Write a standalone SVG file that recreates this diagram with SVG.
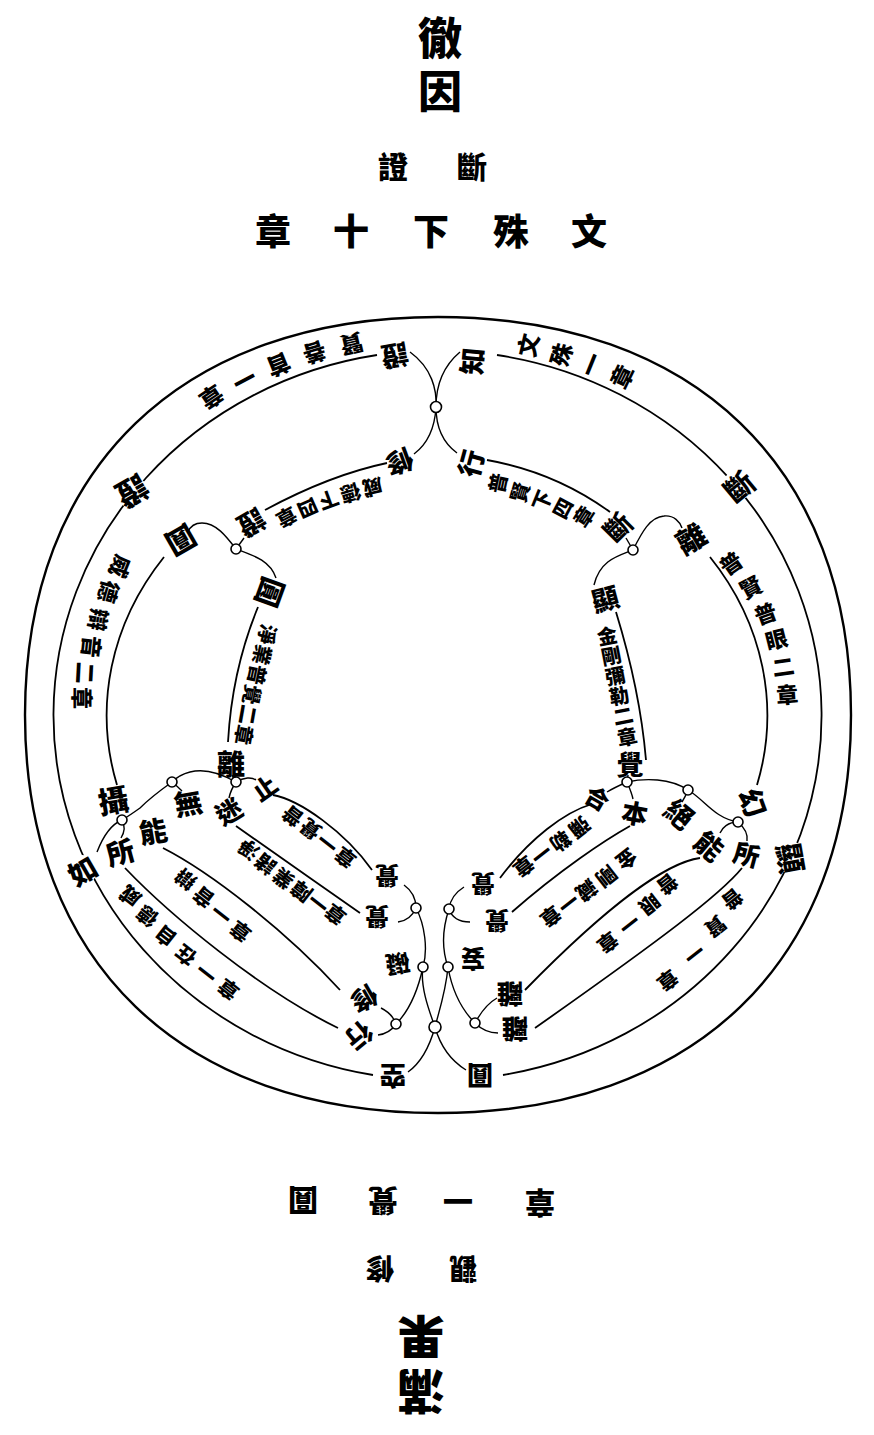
<svg xmlns="http://www.w3.org/2000/svg" width="874" height="1435" viewBox="0 0 874 1435">
<style>
.t{font-family:"Noto Sans CJK TC","Noto Sans CJK SC",sans-serif;font-weight:900;text-anchor:middle;dominant-baseline:central;fill:#000}
.ring{fill:none;stroke:#000;stroke-width:2.4}
.ln{fill:none;stroke:#000;stroke-width:1.8}
.cn{fill:none;stroke:#000;stroke-width:1.4}
.nd{fill:#fff;stroke:#000;stroke-width:1.6}
.mk{fill:#fff;stroke:none}
</style>
<rect width="874" height="1435" fill="#fff"/>

<g id="title-top">
<text class="t" font-size="44" x="440" y="69" style="writing-mode:vertical-rl;letter-spacing:9px">徹因</text>
<text class="t" font-size="30" transform="translate(393,165)">證</text>
<text class="t" font-size="30" transform="translate(472,165)">斷</text>
<text class="t" font-size="36" transform="translate(273,229)">章</text>
<text class="t" font-size="36" transform="translate(351,229)">十</text>
<text class="t" font-size="36" transform="translate(431,229)">下</text>
<text class="t" font-size="36" transform="translate(511,229)">殊</text>
<text class="t" font-size="36" transform="translate(589,229)">文</text>
</g>

<g id="title-bottom">
<text class="t" font-size="30" transform="translate(303,1203) rotate(180)">圓</text>
<text class="t" font-size="30" transform="translate(383,1203) rotate(180)">覺</text>
<text class="t" font-size="30" transform="translate(458,1203) rotate(180)">一</text>
<text class="t" font-size="30" transform="translate(540,1205) rotate(180)">章</text>
<text class="t" font-size="28" transform="translate(380,1270) rotate(180)">修</text>
<text class="t" font-size="28" transform="translate(463,1270) rotate(180)">觀</text>
<text class="t" font-size="47" transform="translate(421,1340) rotate(180)">果</text>
<text class="t" font-size="47" transform="translate(421,1394) rotate(180)">滿</text>
</g>

<g id="connectors">
<path class="ring" d="M438,317 C694,317 851,468 851,715 C851,962 694,1113 438,1113 C182,1113 25,962 25,715 C25,468 182,317 438,317 Z"/>
<path class="ln" d="M377,355 A385,365 0 0,0 373,1075"/>
<path class="ln" d="M497,355 A385,365 0 0,1 503,1075"/>
<path class="ln" d="M710,557 A330,281 0 0,1 757,785"/>
<path class="ln" d="M164,557 A330,281 0 0,0 117,785"/>
<path class="ln" d="M487,460 Q555,472 610,512"/>
<path class="ln" d="M387,463 Q330,475 265,510"/>
<path class="ln" d="M616,612 Q640,690 646,760"/>
<path class="ln" d="M258,607 Q232,670 228,742"/>
<path class="cn" d="M410,352 C432,368 437,390 436,407 C435,425 430,442 414,454"/>
<path class="cn" d="M460,352 C441,368 436,390 436,407 C436,425 442,442 457,453"/>
<path class="cn" d="M626,538 L633,550"/>
<path class="cn" d="M633,550 C618,556 600,560 594,585"/>
<path class="cn" d="M633,550 C642,532 650,517 664,516 C674,515 680,522 682,528"/>
<path class="cn" d="M244,538 L236,549"/>
<path class="cn" d="M236,549 C226,536 216,523 202,523 C194,523 190,527 188,532"/>
<path class="cn" d="M236,549 C252,555 270,560 276,578"/>
<path class="cn" d="M232,775 L236,782"/>
<path class="cn" d="M236,782 C244,777 252,777 256,780"/>
<path class="cn" d="M236,782 C232,788 230,793 229,798"/>
<path class="cn" d="M236,782 C222,774 205,768 190,772 C182,774 176,778 172,782"/>
<path class="cn" d="M172,782 C177,786 180,789 182,791"/>
<path class="cn" d="M172,782 C158,792 148,800 140,808 C133,813 127,817 122,820"/>
<path class="cn" d="M122,820 C126,827 124,833 121,838"/>
<path class="cn" d="M122,820 C112,824 104,834 97,852"/>
<path class="cn" d="M628,775 L627,782"/>
<path class="cn" d="M627,782 C618,786 612,789 607,792"/>
<path class="cn" d="M627,782 C630,789 632,794 633,799"/>
<path class="cn" d="M627,782 C645,778 670,778 688,790"/>
<path class="cn" d="M688,790 C686,795 684,799 682,802"/>
<path class="cn" d="M688,790 C705,800 714,818 738,822"/>
<path class="cn" d="M738,822 C728,822 722,828 720,833"/>
<path class="cn" d="M738,822 C746,829 748,835 747,841"/>
<path class="ln" d="M273,795 C300,800 345,832 372,870"/>
<path class="ln" d="M236,826 C270,850 320,885 360,913"/>
<path class="ln" d="M163,848 C210,872 285,930 340,990"/>
<path class="ln" d="M125,868 C170,915 260,990 338,1028"/>
<path class="ln" d="M592,804 C565,812 530,838 500,878"/>
<path class="ln" d="M630,826 C605,840 560,870 512,912"/>
<path class="ln" d="M700,858 C670,862 615,898 525,990"/>
<path class="ln" d="M742,868 C720,895 660,940 535,1028"/>
<path class="cn" d="M404,885 C411,890 416,898 416,908"/>
<path class="cn" d="M416,908 C412,917 406,921 398,922"/>
<path class="cn" d="M416,908 C425,925 428,950 423,967 C420,985 428,1008 435,1027"/>
<path class="cn" d="M423,967 C418,990 410,1010 396,1024"/>
<path class="cn" d="M381,1008 C389,1012 394,1018 396,1024"/>
<path class="cn" d="M396,1024 C392,1030 386,1034 378,1035"/>
<path class="cn" d="M435,1027 C430,1045 422,1062 408,1072"/>
<path class="cn" d="M464,887 C456,892 450,900 449,909"/>
<path class="cn" d="M449,909 C452,918 460,922 470,922"/>
<path class="cn" d="M449,909 C442,930 442,950 448,967 C446,990 440,1008 435,1027"/>
<path class="cn" d="M448,967 C452,990 462,1010 475,1023"/>
<path class="cn" d="M475,1023 C482,1010 490,1002 497,998"/>
<path class="cn" d="M475,1023 C482,1030 490,1033 498,1033"/>
<path class="cn" d="M435,1027 C440,1045 450,1060 466,1070"/>
</g>

<g id="nodes-junctions">
<circle class="nd" cx="436" cy="407" r="5.5"/>
<circle class="nd" cx="633" cy="550" r="5"/>
<circle class="nd" cx="236" cy="549" r="5"/>
<circle class="nd" cx="236" cy="782" r="5"/>
<circle class="nd" cx="172" cy="782" r="5"/>
<circle class="nd" cx="122" cy="820" r="5"/>
<circle class="nd" cx="627" cy="782" r="5"/>
<circle class="nd" cx="688" cy="790" r="5"/>
<circle class="nd" cx="738" cy="822" r="5"/>
<circle class="nd" cx="416" cy="908" r="5"/>
<circle class="nd" cx="423" cy="967" r="5"/>
<circle class="nd" cx="396" cy="1024" r="5"/>
<circle class="nd" cx="449" cy="909" r="5"/>
<circle class="nd" cx="448" cy="967" r="5"/>
<circle class="nd" cx="475" cy="1023" r="5"/>
<circle class="nd" cx="435" cy="1027" r="6"/>
</g>

<g id="n-zheng-top"><text class="t" font-size="27" transform="translate(395,357) rotate(170)">證</text></g>
<g id="n-zhi"><text class="t" font-size="27" transform="translate(471,361) rotate(-85)">知</text></g>
<g id="n-xiu-top"><text class="t" font-size="27" transform="translate(400,463) rotate(160)">修</text></g>
<g id="n-xing-top"><text class="t" font-size="27" transform="translate(470,463) rotate(-75)">行</text></g>

<g id="band-wenshu">
<text class="t" font-size="23" transform="translate(527,345) rotate(-77)">文</text>
<text class="t" font-size="23" transform="translate(560,354) rotate(-73)">殊</text>
<text class="t" font-size="23" transform="translate(590,364) rotate(-68)">一</text>
<text class="t" font-size="23" transform="translate(621,376) rotate(-64)">章</text>
</g>
<g id="band-xianshanshou">
<text class="t" font-size="23" transform="translate(352,345) rotate(167)">賢</text>
<text class="t" font-size="23" transform="translate(315,354) rotate(163)">善</text>
<text class="t" font-size="23" transform="translate(279,366) rotate(158)">首</text>
<text class="t" font-size="23" transform="translate(245,381) rotate(152)">一</text>
<text class="t" font-size="23" transform="translate(212,398) rotate(146)">章</text>
</g>
<g id="band-puxian-four">
<text class="t" font-size="20" transform="translate(497,483) rotate(-78)">普</text>
<text class="t" font-size="20" transform="translate(519,492) rotate(-74)">賢</text>
<text class="t" font-size="20" transform="translate(541,500) rotate(-68)">下</text>
<text class="t" font-size="20" transform="translate(562,508) rotate(-62)">四</text>
<text class="t" font-size="20" transform="translate(583,516) rotate(-57)">章</text>
</g>
<g id="band-weide-four">
<text class="t" font-size="20" transform="translate(373,488) rotate(167)">威</text>
<text class="t" font-size="20" transform="translate(351,494) rotate(164)">德</text>
<text class="t" font-size="20" transform="translate(329,501) rotate(160)">下</text>
<text class="t" font-size="20" transform="translate(308,509) rotate(156)">四</text>
<text class="t" font-size="20" transform="translate(287,518) rotate(152)">章</text>
</g>

<g id="n-duan-outer"><circle class="mk" cx="738" cy="485" r="15"/><text class="t" font-size="29" transform="translate(738,485) rotate(-40)">斷</text></g>
<g id="n-duan-inner"><text class="t" font-size="27" transform="translate(617,526) rotate(-45)">斷</text></g>
<g id="n-li-right"><text class="t" font-size="29" transform="translate(690,537) rotate(-30)">離</text></g>
<g id="n-xian-inner"><text class="t" font-size="27" transform="translate(605,598) rotate(-15)">顯</text></g>
<g id="band-puxian-puyan">
<text class="t" font-size="22" transform="translate(730,562) rotate(-35)">普</text>
<text class="t" font-size="22" transform="translate(750,586) rotate(-28)">賢</text>
<text class="t" font-size="22" transform="translate(765,612) rotate(-20)">普</text>
<text class="t" font-size="22" transform="translate(776,638) rotate(-14)">眼</text>
<text class="t" font-size="22" transform="translate(783,665) rotate(-8)">二</text>
<text class="t" font-size="22" transform="translate(787,693) rotate(-4)">章</text>
</g>
<g id="band-jingang-mile">
<text class="t" font-size="20" transform="translate(607,635) rotate(-11)">金</text>
<text class="t" font-size="20" transform="translate(611,655) rotate(-11)">剛</text>
<text class="t" font-size="20" transform="translate(615,675) rotate(-11)">彌</text>
<text class="t" font-size="20" transform="translate(619,695) rotate(-11)">勒</text>
<text class="t" font-size="20" transform="translate(623,715) rotate(-11)">二</text>
<text class="t" font-size="20" transform="translate(627,736) rotate(-11)">章</text>
</g>
<g id="n-jue-right"><text class="t" font-size="27" transform="translate(630,763)">覺</text></g>

<g id="n-zheng-outer"><circle class="mk" cx="133" cy="493" r="16"/><text class="t" font-size="31" transform="translate(133,493) rotate(150)">證</text></g>
<g id="n-zheng-inner"><text class="t" font-size="27" transform="translate(252,524) rotate(150)">證</text></g>
<g id="n-yuan-1"><text class="t" font-size="29" transform="translate(182,542) rotate(150)">圓</text></g>
<g id="n-yuan-2"><text class="t" font-size="29" transform="translate(272,593) rotate(110)">圓</text></g>
<g id="band-weide-bianyin">
<text class="t" font-size="22" transform="translate(122,567) rotate(112)">威</text>
<text class="t" font-size="22" transform="translate(110,592) rotate(106)">德</text>
<text class="t" font-size="22" transform="translate(100,620) rotate(100)">辯</text>
<text class="t" font-size="22" transform="translate(93,647) rotate(96)">音</text>
<text class="t" font-size="22" transform="translate(87,673) rotate(93)">二</text>
<text class="t" font-size="22" transform="translate(84,698) rotate(90)">章</text>
</g>
<g id="band-jingye-pujue">
<text class="t" font-size="20" transform="translate(268,635) rotate(103)">淨</text>
<text class="t" font-size="20" transform="translate(263,655) rotate(103)">業</text>
<text class="t" font-size="20" transform="translate(258,675) rotate(102)">普</text>
<text class="t" font-size="20" transform="translate(253,695) rotate(101)">覺</text>
<text class="t" font-size="20" transform="translate(249,715) rotate(100)">二</text>
<text class="t" font-size="20" transform="translate(245,735) rotate(100)">章</text>
</g>
<g id="n-li-left"><text class="t" font-size="28" transform="translate(231,763)">離</text></g>

<g id="n-she"><text class="t" font-size="30" transform="translate(113,799) rotate(-10)">攝</text></g>
<g id="n-zhi-stop"><text class="t" font-size="24" transform="translate(264,787) rotate(-35)">止</text></g>
<g id="n-mi"><text class="t" font-size="26" transform="translate(228,810) rotate(-30)">迷</text></g>
<g id="n-wu"><text class="t" font-size="28" transform="translate(188,802) rotate(-10)">無</text></g>
<g id="n-neng-left"><text class="t" font-size="28" transform="translate(153,830) rotate(-10)">能</text></g>
<g id="n-suo-left"><text class="t" font-size="28" transform="translate(120,851) rotate(-15)">所</text></g>
<g id="n-ru"><circle class="mk" cx="82" cy="870" r="15"/><text class="t" font-size="28" transform="translate(82,870) rotate(-30)">如</text></g>

<g id="n-he"><text class="t" font-size="24" transform="translate(598,797) rotate(30)">合</text></g>
<g id="n-ben"><text class="t" font-size="26" transform="translate(635,812) rotate(10)">本</text></g>
<g id="n-jue-cut"><text class="t" font-size="28" transform="translate(680,813) rotate(40)">絕</text></g>
<g id="n-neng-right"><text class="t" font-size="28" transform="translate(710,845) rotate(40)">能</text></g>
<g id="n-suo-right"><text class="t" font-size="26" transform="translate(747,853) rotate(15)">所</text></g>
<g id="n-huan"><text class="t" font-size="28" transform="translate(754,802) rotate(70)">幻</text></g>
<g id="n-xian-outer"><circle class="mk" cx="792" cy="858" r="16"/><text class="t" font-size="30" transform="translate(792,858) rotate(80)">顯</text></g>

<g id="band-pujue">
<text class="t" font-size="20" transform="translate(292,817) rotate(218)">普</text>
<text class="t" font-size="20" transform="translate(310,830) rotate(218)">覺</text>
<text class="t" font-size="20" transform="translate(327,844) rotate(218)">一</text>
<text class="t" font-size="20" transform="translate(345,858) rotate(218)">章</text>
</g>
<g id="band-jingzhuyezhang">
<text class="t" font-size="20" transform="translate(248,850) rotate(218)">淨</text>
<text class="t" font-size="20" transform="translate(265,865) rotate(218)">諸</text>
<text class="t" font-size="20" transform="translate(283,879) rotate(218)">業</text>
<text class="t" font-size="20" transform="translate(301,892) rotate(218)">障</text>
<text class="t" font-size="20" transform="translate(318,904) rotate(218)">一</text>
<text class="t" font-size="20" transform="translate(335,915) rotate(218)">章</text>
</g>
<g id="band-bianyin">
<text class="t" font-size="20" transform="translate(185,880) rotate(218)">辯</text>
<text class="t" font-size="20" transform="translate(203,898) rotate(218)">音</text>
<text class="t" font-size="20" transform="translate(221,915) rotate(218)">一</text>
<text class="t" font-size="20" transform="translate(240,932) rotate(218)">章</text>
</g>
<g id="band-weidezizai">
<text class="t" font-size="20" transform="translate(130,897) rotate(218)">威</text>
<text class="t" font-size="20" transform="translate(147,917) rotate(218)">德</text>
<text class="t" font-size="20" transform="translate(165,937) rotate(218)">自</text>
<text class="t" font-size="20" transform="translate(185,956) rotate(218)">在</text>
<text class="t" font-size="20" transform="translate(206,974) rotate(218)">一</text>
<text class="t" font-size="20" transform="translate(228,990) rotate(218)">章</text>
</g>

<g id="band-mile">
<text class="t" font-size="20" transform="translate(580,828) rotate(142)">彌</text>
<text class="t" font-size="20" transform="translate(561,842) rotate(142)">勒</text>
<text class="t" font-size="20" transform="translate(542,855) rotate(142)">一</text>
<text class="t" font-size="20" transform="translate(524,867) rotate(142)">章</text>
</g>
<g id="band-jingangzang">
<text class="t" font-size="20" transform="translate(627,860) rotate(142)">金</text>
<text class="t" font-size="20" transform="translate(607,877) rotate(142)">剛</text>
<text class="t" font-size="20" transform="translate(587,891) rotate(142)">藏</text>
<text class="t" font-size="20" transform="translate(569,904) rotate(142)">一</text>
<text class="t" font-size="20" transform="translate(551,917) rotate(142)">章</text>
</g>
<g id="band-puyan">
<text class="t" font-size="20" transform="translate(668,885) rotate(142)">普</text>
<text class="t" font-size="20" transform="translate(650,905) rotate(142)">眼</text>
<text class="t" font-size="20" transform="translate(630,925) rotate(142)">一</text>
<text class="t" font-size="20" transform="translate(608,943) rotate(142)">章</text>
</g>
<g id="band-puxian">
<text class="t" font-size="20" transform="translate(733,900) rotate(142)">普</text>
<text class="t" font-size="20" transform="translate(716,927) rotate(142)">賢</text>
<text class="t" font-size="20" transform="translate(695,955) rotate(142)">一</text>
<text class="t" font-size="20" transform="translate(668,981) rotate(142)">章</text>
</g>

<g id="n-bottom-left">
<text class="t" font-size="24" transform="translate(387,877) rotate(180)">覺</text>
<text class="t" font-size="24" transform="translate(377,918) rotate(180)">覺</text>
<text class="t" font-size="24" transform="translate(398,965) rotate(170)">礙</text>
<text class="t" font-size="26" transform="translate(365,1000) rotate(150)">修</text>
<text class="t" font-size="26" transform="translate(360,1037) rotate(140)">行</text>
<text class="t" font-size="26" transform="translate(393,1077) rotate(180)">空</text>
</g>
<g id="n-bottom-right">
<text class="t" font-size="24" transform="translate(483,885) rotate(180)">覺</text>
<text class="t" font-size="24" transform="translate(497,922) rotate(180)">覺</text>
<text class="t" font-size="24" transform="translate(473,960) rotate(180)">妄</text>
<text class="t" font-size="26" transform="translate(510,995) rotate(180)">離</text>
<text class="t" font-size="26" transform="translate(515,1030) rotate(180)">離</text>
<text class="t" font-size="26" transform="translate(480,1077) rotate(180)">圓</text>
</g>
</svg>
